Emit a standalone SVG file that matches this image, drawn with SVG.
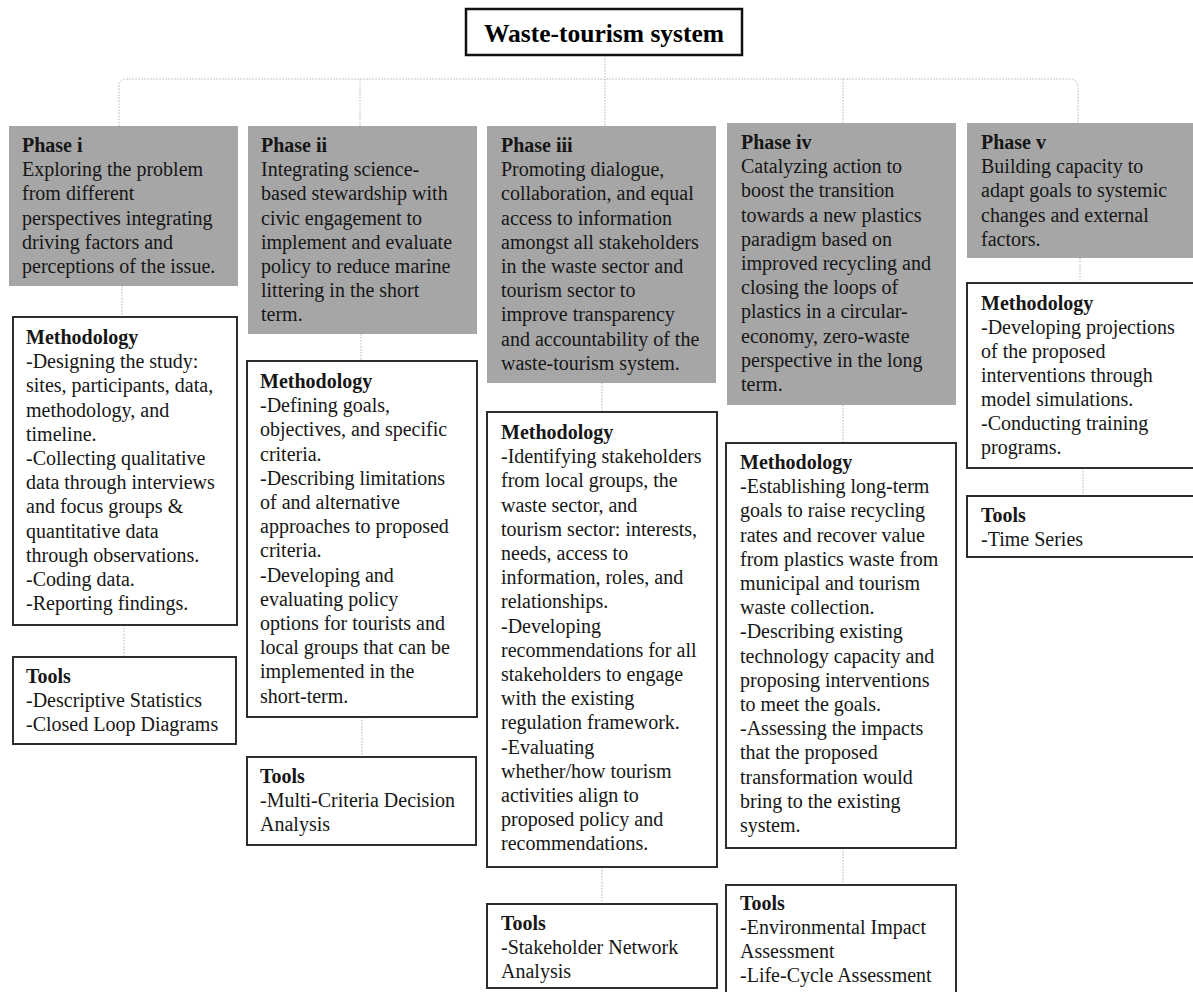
<svg xmlns="http://www.w3.org/2000/svg" width="1193" height="992" viewBox="0 0 1193 992">
<style>
text{font-family:"Liberation Serif","Times New Roman",serif;font-size:20px;fill:#161616}
.b{font-weight:bold}
.title{font-size:25.5px;font-weight:bold;text-anchor:middle;fill:#000}
.phase{fill:#a6a6a6;stroke:none}
.box{fill:#fff;stroke:#2e2e2e;stroke-width:2}
.tbox{fill:#fff;stroke:#111;stroke-width:2.5}
.con{fill:none;stroke:#b5b5b5;stroke-width:1;stroke-dasharray:1.5 1.5}
</style>
<rect width="1193" height="992" fill="#fff"/>
<g id="connectors">
<path class="con" d="M605,55 V126"/>
<path class="con" d="M119,126 V87 Q119,79 127,79 H1070 Q1078,79 1078,87 V123"/>
<path class="con" d="M360,79 V126"/>
<path class="con" d="M843,79 V123"/>
<path class="con" d="M122,286 V317"/>
<path class="con" d="M124,625 V657"/>
<path class="con" d="M361,334 V361"/>
<path class="con" d="M362,717 V757"/>
<path class="con" d="M602,383 V412"/>
<path class="con" d="M602,867 V904"/>
<path class="con" d="M843,405 V443"/>
<path class="con" d="M843,848 V885"/>
<path class="con" d="M1080,258 V283"/>
<path class="con" d="M1083,468 V496"/>
</g>
<g id="title">
<rect class="tbox" x="466" y="9" width="276" height="46"/>
<text class="title" x="604" y="42">Waste-tourism system</text>
</g>
<g id="phase1">
<rect class="phase" x="9" y="126" width="229" height="160"/>
<text x="22" y="152"><tspan class="b">Phase i</tspan><tspan x="22" dy="24.2">Exploring the problem</tspan><tspan x="22" dy="24.2">from different</tspan><tspan x="22" dy="24.2">perspectives integrating</tspan><tspan x="22" dy="24.2">driving factors and</tspan><tspan x="22" dy="24.2">perceptions of the issue.</tspan></text>
</g>
<g id="phase2">
<rect class="phase" x="248" y="126" width="229" height="208"/>
<text x="261" y="152"><tspan class="b">Phase ii</tspan><tspan x="261" dy="24.2">Integrating science-</tspan><tspan x="261" dy="24.2">based stewardship with</tspan><tspan x="261" dy="24.2">civic engagement to</tspan><tspan x="261" dy="24.2">implement and evaluate</tspan><tspan x="261" dy="24.2">policy to reduce marine</tspan><tspan x="261" dy="24.2">littering in the short</tspan><tspan x="261" dy="24.2">term.</tspan></text>
</g>
<g id="phase3">
<rect class="phase" x="487" y="126" width="229" height="257"/>
<text x="501" y="152"><tspan class="b">Phase iii</tspan><tspan x="501" dy="24.2">Promoting dialogue,</tspan><tspan x="501" dy="24.2">collaboration, and equal</tspan><tspan x="501" dy="24.2">access to information</tspan><tspan x="501" dy="24.2">amongst all stakeholders</tspan><tspan x="501" dy="24.2">in the waste sector and</tspan><tspan x="501" dy="24.2">tourism sector to</tspan><tspan x="501" dy="24.2">improve transparency</tspan><tspan x="501" dy="24.2">and accountability of the</tspan><tspan x="501" dy="24.2">waste-tourism system.</tspan></text>
</g>
<g id="phase4">
<rect class="phase" x="727" y="123" width="229" height="282"/>
<text x="741" y="149"><tspan class="b">Phase iv</tspan><tspan x="741" dy="24.2">Catalyzing action to</tspan><tspan x="741" dy="24.2">boost the transition</tspan><tspan x="741" dy="24.2">towards a new plastics</tspan><tspan x="741" dy="24.2">paradigm based on</tspan><tspan x="741" dy="24.2">improved recycling and</tspan><tspan x="741" dy="24.2">closing the loops of</tspan><tspan x="741" dy="24.2">plastics in a circular-</tspan><tspan x="741" dy="24.2">economy, zero-waste</tspan><tspan x="741" dy="24.2">perspective in the long</tspan><tspan x="741" dy="24.2">term.</tspan></text>
</g>
<g id="phase5">
<rect class="phase" x="967" y="123" width="226" height="135"/>
<text x="981" y="149"><tspan class="b">Phase v</tspan><tspan x="981" dy="24.2">Building capacity to</tspan><tspan x="981" dy="24.2">adapt goals to systemic</tspan><tspan x="981" dy="24.2">changes and external</tspan><tspan x="981" dy="24.2">factors.</tspan></text>
</g>
<g id="method1">
<rect class="box" x="13" y="317" width="224" height="308"/>
<text x="26" y="344"><tspan class="b">Methodology</tspan><tspan x="26" dy="24.2">-Designing the study:</tspan><tspan x="26" dy="24.2">sites, participants, data,</tspan><tspan x="26" dy="24.2">methodology, and</tspan><tspan x="26" dy="24.2">timeline.</tspan><tspan x="26" dy="24.2">-Collecting qualitative</tspan><tspan x="26" dy="24.2">data through interviews</tspan><tspan x="26" dy="24.2">and focus groups &amp;</tspan><tspan x="26" dy="24.2">quantitative data</tspan><tspan x="26" dy="24.2">through observations.</tspan><tspan x="26" dy="24.2">-Coding data.</tspan><tspan x="26" dy="24.2">-Reporting findings.</tspan></text>
</g>
<g id="tools1">
<rect class="box" x="13" y="657" width="223" height="87"/>
<text x="26" y="683"><tspan class="b">Tools</tspan><tspan x="26" dy="24.2">-Descriptive Statistics</tspan><tspan x="26" dy="24.2">-Closed Loop Diagrams</tspan></text>
</g>
<g id="method2">
<rect class="box" x="247" y="361" width="230" height="356"/>
<text x="260" y="388"><tspan class="b">Methodology</tspan><tspan x="260" dy="24.2">-Defining goals,</tspan><tspan x="260" dy="24.2">objectives, and specific</tspan><tspan x="260" dy="24.2">criteria.</tspan><tspan x="260" dy="24.2">-Describing limitations</tspan><tspan x="260" dy="24.2">of and alternative</tspan><tspan x="260" dy="24.2">approaches to proposed</tspan><tspan x="260" dy="24.2">criteria.</tspan><tspan x="260" dy="24.2">-Developing and</tspan><tspan x="260" dy="24.2">evaluating policy</tspan><tspan x="260" dy="24.2">options for tourists and</tspan><tspan x="260" dy="24.2">local groups that can be</tspan><tspan x="260" dy="24.2">implemented in the</tspan><tspan x="260" dy="24.2">short-term.</tspan></text>
</g>
<g id="tools2">
<rect class="box" x="247" y="757" width="229" height="88"/>
<text x="260" y="783"><tspan class="b">Tools</tspan><tspan x="260" dy="24.2">-Multi-Criteria Decision</tspan><tspan x="260" dy="24.2">Analysis</tspan></text>
</g>
<g id="method3">
<rect class="box" x="487" y="412" width="230" height="455"/>
<text x="501" y="439"><tspan class="b">Methodology</tspan><tspan x="501" dy="24.2">-Identifying stakeholders</tspan><tspan x="501" dy="24.2">from local groups, the</tspan><tspan x="501" dy="24.2">waste sector, and</tspan><tspan x="501" dy="24.2">tourism sector: interests,</tspan><tspan x="501" dy="24.2">needs, access to</tspan><tspan x="501" dy="24.2">information, roles, and</tspan><tspan x="501" dy="24.2">relationships.</tspan><tspan x="501" dy="24.2">-Developing</tspan><tspan x="501" dy="24.2">recommendations for all</tspan><tspan x="501" dy="24.2">stakeholders to engage</tspan><tspan x="501" dy="24.2">with the existing</tspan><tspan x="501" dy="24.2">regulation framework.</tspan><tspan x="501" dy="24.2">-Evaluating</tspan><tspan x="501" dy="24.2">whether/how tourism</tspan><tspan x="501" dy="24.2">activities align to</tspan><tspan x="501" dy="24.2">proposed policy and</tspan><tspan x="501" dy="24.2">recommendations.</tspan></text>
</g>
<g id="tools3">
<rect class="box" x="487" y="904" width="230" height="84"/>
<text x="501" y="930"><tspan class="b">Tools</tspan><tspan x="501" dy="24">-Stakeholder Network</tspan><tspan x="501" dy="24">Analysis</tspan></text>
</g>
<g id="method4">
<rect class="box" x="726" y="443" width="230" height="405"/>
<text x="740" y="469"><tspan class="b">Methodology</tspan><tspan x="740" dy="24.2">-Establishing long-term</tspan><tspan x="740" dy="24.2">goals to raise recycling</tspan><tspan x="740" dy="24.2">rates and recover value</tspan><tspan x="740" dy="24.2">from plastics waste from</tspan><tspan x="740" dy="24.2">municipal and tourism</tspan><tspan x="740" dy="24.2">waste collection.</tspan><tspan x="740" dy="24.2">-Describing existing</tspan><tspan x="740" dy="24.2">technology capacity and</tspan><tspan x="740" dy="24.2">proposing interventions</tspan><tspan x="740" dy="24.2">to meet the goals.</tspan><tspan x="740" dy="24.2">-Assessing the impacts</tspan><tspan x="740" dy="24.2">that the proposed</tspan><tspan x="740" dy="24.2">transformation would</tspan><tspan x="740" dy="24.2">bring to the existing</tspan><tspan x="740" dy="24.2">system.</tspan></text>
</g>
<g id="tools4">
<rect class="box" x="726" y="885" width="230" height="115"/>
<text x="740" y="910"><tspan class="b">Tools</tspan><tspan x="740" dy="24">-Environmental Impact</tspan><tspan x="740" dy="24">Assessment</tspan><tspan x="740" dy="24">-Life-Cycle Assessment</tspan></text>
</g>
<g id="method5">
<rect class="box" x="967" y="283" width="230" height="185"/>
<text x="981" y="310"><tspan class="b">Methodology</tspan><tspan x="981" dy="24">-Developing projections</tspan><tspan x="981" dy="24">of the proposed</tspan><tspan x="981" dy="24">interventions through</tspan><tspan x="981" dy="24">model simulations.</tspan><tspan x="981" dy="24">-Conducting training</tspan><tspan x="981" dy="24">programs.</tspan></text>
</g>
<g id="tools5">
<rect class="box" x="967" y="496" width="230" height="61"/>
<text x="981" y="522"><tspan class="b">Tools</tspan><tspan x="981" dy="24">-Time Series</tspan></text>
</g>
</svg>
